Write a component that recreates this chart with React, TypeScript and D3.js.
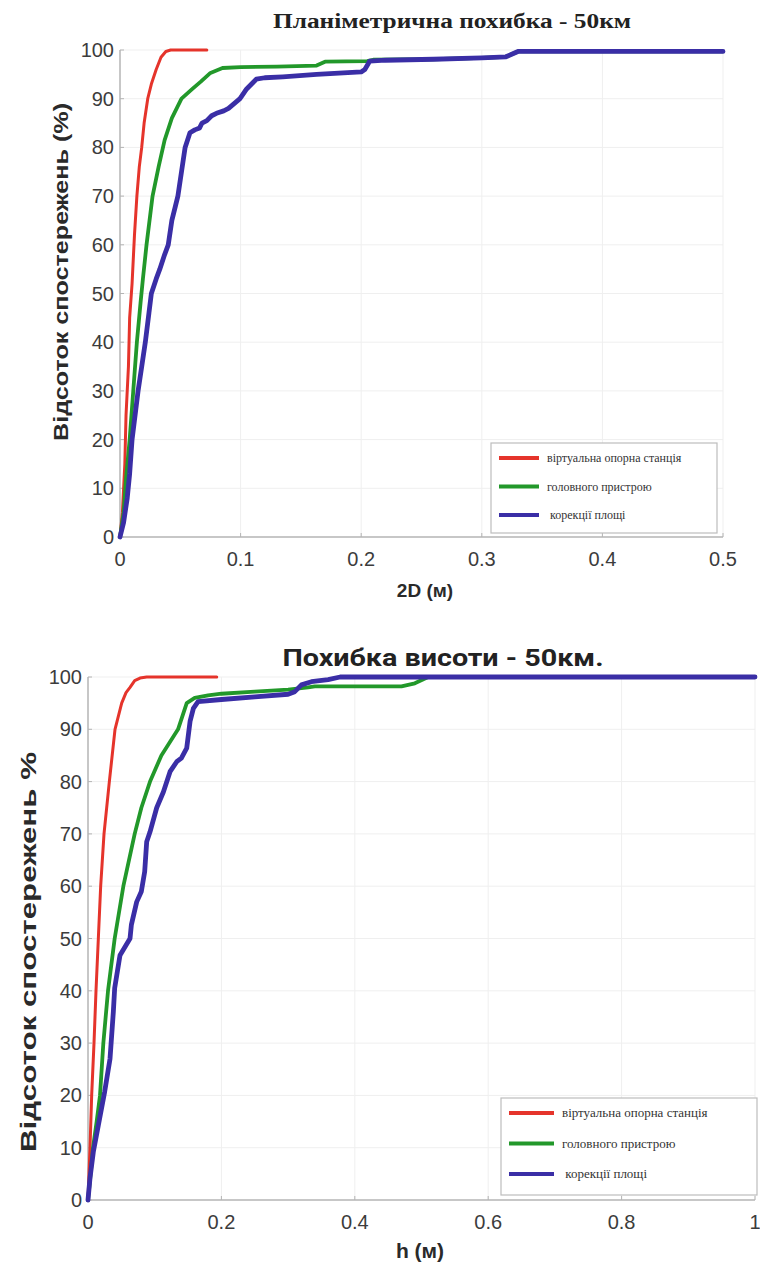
import React from "react";
import * as d3 from "d3";

// CDF curves: [error (m), share of observations (%)]
const planVrs: [number, number][] = [
  [0, 0], [0.002, 5], [0.004, 15], [0.005, 25], [0.007, 35], [0.008, 45], [0.010, 52],
  [0.012, 62], [0.014, 70], [0.016, 76], [0.018, 80], [0.020, 85], [0.023, 90], [0.026, 93],
  [0.030, 96], [0.034, 98.5], [0.038, 99.7], [0.042, 100], [0.072, 100],
];
const planHead: [number, number][] = [
  [0, 0], [0.003, 5], [0.005, 12], [0.008, 20], [0.011, 30], [0.014, 40], [0.017, 48],
  [0.019, 53], [0.022, 60], [0.027, 70], [0.032, 76], [0.037, 81.5], [0.043, 86], [0.051, 90],
  [0.060, 92], [0.067, 93.5], [0.075, 95.3], [0.085, 96.3], [0.10, 96.5], [0.13, 96.6],
  [0.163, 96.8], [0.17, 97.6], [0.205, 97.7], [0.21, 98], [0.26, 98.1], [0.30, 98.4],
  [0.32, 98.6], [0.33, 99.7], [0.5, 99.7],
];
const planArea: [number, number][] = [
  [0, 0], [0.003, 3], [0.006, 8], [0.008, 13], [0.010, 20], [0.013, 26], [0.015, 30],
  [0.018, 35], [0.021, 40], [0.024, 46], [0.026, 50], [0.030, 53], [0.033, 55], [0.037, 58],
  [0.040, 60], [0.043, 65], [0.046, 68], [0.048, 70], [0.051, 75], [0.054, 80], [0.058, 83],
  [0.062, 83.6], [0.066, 84], [0.068, 85], [0.072, 85.5], [0.076, 86.5], [0.080, 87],
  [0.086, 87.5], [0.090, 88], [0.0995, 90], [0.105, 92], [0.113, 94], [0.12, 94.3],
  [0.135, 94.5], [0.163, 95], [0.20, 95.5], [0.203, 96], [0.207, 97.7], [0.22, 97.9],
  [0.26, 98.1], [0.30, 98.4], [0.32, 98.6], [0.33, 99.7], [0.5, 99.7],
];

const hVrs: [number, number][] = [
  [0, 0], [0.003, 10], [0.0055, 20], [0.009, 30], [0.012, 40], [0.0155, 50], [0.019, 60],
  [0.024, 70], [0.032, 80], [0.0405, 90], [0.0505, 95], [0.057, 97], [0.063, 98],
  [0.070, 99.3], [0.078, 99.8], [0.088, 100], [0.193, 100],
];
const hHead: [number, number][] = [
  [0, 0], [0.004, 5], [0.0075, 10], [0.013, 15], [0.018, 20], [0.023, 30], [0.030, 40],
  [0.040, 50], [0.053, 60], [0.070, 70], [0.080, 75], [0.093, 80], [0.11, 85], [0.12, 87],
  [0.135, 90], [0.148, 95], [0.16, 96], [0.18, 96.5], [0.20, 96.8], [0.25, 97.2], [0.30, 97.6],
  [0.33, 98], [0.34, 98.2], [0.47, 98.2], [0.49, 98.8], [0.51, 100], [1.0, 100],
];
const hArea: [number, number][] = [
  [0, 0], [0.003, 4.2], [0.008, 9.2], [0.0155, 14.3], [0.025, 20.7], [0.033, 27], [0.038, 36],
  [0.040, 40.5], [0.048, 46.8], [0.063, 50], [0.065, 52.6], [0.073, 57], [0.080, 59],
  [0.085, 62.8], [0.088, 68.5], [0.093, 70.4], [0.103, 75], [0.113, 78], [0.123, 81.9],
  [0.133, 83.8], [0.140, 84.5], [0.148, 86.4], [0.153, 91.5], [0.158, 94], [0.165, 95.3],
  [0.20, 95.7], [0.25, 96.2], [0.30, 96.7], [0.31, 97.2], [0.32, 98.5], [0.335, 99.1],
  [0.36, 99.5], [0.378, 100], [1.0, 100],
];

const legendLabels = ["віртуальна опорна станція", "головного пристрою", "корекції площі"];
const seriesColors = ["#e5342b", "#22982a", "#3a2ea6"];
const seriesWidths = [3, 3.8, 4.8];

const yTicks = [0, 10, 20, 30, 40, 50, 60, 70, 80, 90, 100];
const planXTicks = [0, 0.1, 0.2, 0.3, 0.4, 0.5];
const hXTicks = [0, 0.2, 0.4, 0.6, 0.8, 1];

type PanelProps = {
  series: [number, number][][];
  xDomain: [number, number];
  xTicks: number[];
  left: number; right: number; top: number; bottom: number;
  title: string; titleFont: string; titleSize: number; titleX: number; titleY: number; titleLen: number;
  yLabel: string; yLabelX: number; yLabelY: number; yLabelSize: number; yLabelLen: number;
  xLabel: string; xLabelX: number; xLabelY: number; xLabelSize: number;
  legend: { x: number; y: number; w: number; h: number; size: number; gap: number; len: number };
};

function Panel(p: PanelProps) {
  const x = d3.scaleLinear().domain(p.xDomain).range([p.left, p.right]);
  const y = d3.scaleLinear().domain([0, 100]).range([p.bottom, p.top]);
  const line = d3.line<[number, number]>().x((d) => x(d[0])).y((d) => y(d[1]));
  const fmt = (v: number) => (v === 0 || v === 1 ? String(v) : d3.format(".1f")(v));
  const tickFont = "'Liberation Sans', Arial, sans-serif";
  return (
    <g>
      {/* grid */}
      {yTicks.slice(1).map((t) => (
        <line key={"gy" + t} x1={p.left} x2={p.right} y1={y(t)} y2={y(t)} stroke="#efefef" strokeWidth={1} />
      ))}
      {p.xTicks.slice(1).map((t) => (
        <line key={"gx" + t} x1={x(t)} x2={x(t)} y1={p.top} y2={p.bottom} stroke="#efefef" strokeWidth={1} />
      ))}
      {/* axes */}
      <line x1={p.left} x2={p.left} y1={p.top} y2={p.bottom} stroke="#b4b4b4" strokeWidth={1.5} />
      <line x1={p.left} x2={p.right} y1={p.bottom} y2={p.bottom} stroke="#b4b4b4" strokeWidth={1.5} />
      {yTicks.map((t) => (
        <g key={"ty" + t}>
          <line x1={p.left} x2={p.left + 4} y1={y(t)} y2={y(t)} stroke="#b4b4b4" />
          <text x={p.left - 6} y={y(t) + 7} textAnchor="end" fontFamily={tickFont} fontSize={20} fill="#3c3c3c">
            {t}
          </text>
        </g>
      ))}
      {p.xTicks.map((t) => (
        <g key={"tx" + t}>
          <line x1={x(t)} x2={x(t)} y1={p.bottom} y2={p.bottom - 4} stroke="#b4b4b4" />
          <text x={x(t)} y={p.bottom + 29} textAnchor="middle" fontFamily={tickFont} fontSize={20} fill="#3c3c3c">
            {fmt(t)}
          </text>
        </g>
      ))}
      {/* curves */}
      {p.series.map((s, i) => (
        <path key={"s" + i} d={line(s) || ""} fill="none" stroke={seriesColors[i]} strokeWidth={seriesWidths[i]}
          strokeLinejoin="round" strokeLinecap="round" />
      ))}
      {/* legend */}
      <rect x={p.legend.x} y={p.legend.y} width={p.legend.w} height={p.legend.h} fill="#fff" stroke="#bdbdbd" strokeWidth={1.2} />
      {legendLabels.map((lab, i) => {
        const ly = p.legend.y + 15 + i * p.legend.gap;
        return (
          <g key={"lg" + i}>
            <line x1={p.legend.x + 8} x2={p.legend.x + 8 + p.legend.len} y1={ly} y2={ly}
              stroke={seriesColors[i]} strokeWidth={4} />
            <text x={p.legend.x + 16 + p.legend.len} y={ly + 4} fontFamily="'Liberation Serif', 'Times New Roman', serif"
              fontSize={p.legend.size} fill="#333">
              {i === 2 ? "\u00a0" + lab : lab}
            </text>
          </g>
        );
      })}
      {/* titles */}
      <text x={p.titleX} y={p.titleY} textAnchor="middle" fontFamily={p.titleFont} fontWeight="bold"
        fontSize={p.titleSize} fill="#222" textLength={p.titleLen} lengthAdjust="spacingAndGlyphs">
        {p.title}
      </text>
      <text transform={`translate(${p.yLabelX},${p.yLabelY}) rotate(-90)`} textAnchor="middle"
        fontFamily="'Liberation Sans', Arial, sans-serif" fontWeight="bold" fontSize={p.yLabelSize} fill="#2a2a2a"
        textLength={p.yLabelLen} lengthAdjust="spacingAndGlyphs">
        {p.yLabel}
      </text>
      <text x={p.xLabelX} y={p.xLabelY} textAnchor="middle" fontFamily="'Liberation Sans', Arial, sans-serif"
        fontWeight="bold" fontSize={p.xLabelSize} fill="#2a2a2a">
        {p.xLabel}
      </text>
    </g>
  );
}

export default function App() {
  return (
    <div style={{ position: "absolute", left: 0, top: 0 }}>
      <svg width={760} height={1263} style={{ display: "block", background: "#fff" }}>
        <Panel
          series={[planVrs, planHead, planArea]}
          xDomain={[0, 0.5]} xTicks={planXTicks}
          left={120} right={723} top={50} bottom={537}
          title="Планіметрична похибка - 50км" titleFont="'Liberation Serif', 'Times New Roman', serif"
          titleSize={20} titleX={452} titleY={28} titleLen={358}
          yLabel="Відсоток спостережень (%)" yLabelX={68} yLabelY={272} yLabelSize={20} yLabelLen={338}
          xLabel="2D (м)" xLabelX={425} xLabelY={597} xLabelSize={19}
          legend={{ x: 491, y: 443, w: 226, h: 90, size: 12, gap: 28.5, len: 40 }}
        />
        <Panel
          series={[hVrs, hHead, hArea]}
          xDomain={[0, 1]} xTicks={hXTicks}
          left={88} right={755} top={677} bottom={1200}
          title="Похибка висоти - 50км." titleFont="Roboto, 'Liberation Sans', Arial, sans-serif"
          titleSize={23} titleX={443} titleY={666} titleLen={321}
          yLabel="Відсоток спостережень %" yLabelX={36} yLabelY={952} yLabelSize={22} yLabelLen={400}
          xLabel="h (м)" xLabelX={420} xLabelY={1258} xLabelSize={21}
          legend={{ x: 501, y: 1098, w: 256, h: 97, size: 13, gap: 30.5, len: 45 }}
        />
      </svg>
    </div>
  );
}
